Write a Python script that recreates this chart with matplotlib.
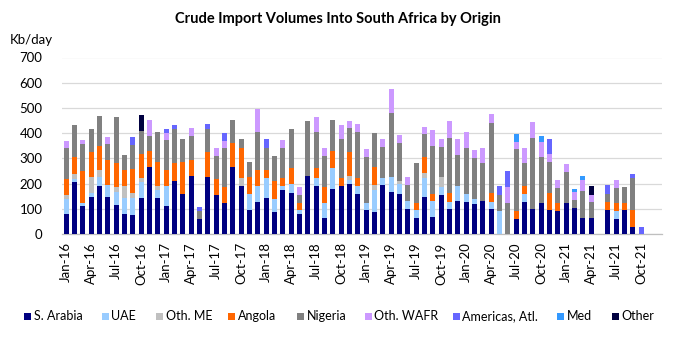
import numpy as np
import matplotlib
matplotlib.use("Agg")
import matplotlib.pyplot as plt
from matplotlib.patches import Rectangle

FONT = ["Lato", "DejaVu Sans"]
plt.rcParams["font.family"] = FONT

months = [f"{m}-{y}" for y in range(16, 22) for m in
          ["Jan", "Feb", "Mar", "Apr", "May", "Jun", "Jul", "Aug", "Sep", "Oct", "Nov", "Dec"]]

series_names = ["S. Arabia", "UAE", "Oth. ME", "Angola", "Nigeria", "Oth. WAFR",
                "Americas, Atl.", "Med", "Other"]
colors = ["#000080", "#99CCFF", "#C0C0C0", "#FF6600", "#808080", "#CC99FF",
          "#6666FF", "#3399FF", "#000040"]

s_arabia = [79, 205, 111, 147, 192, 147, 116, 81, 75, 143, 267, 143,
            111, 210, 159, 231, 61, 227, 156, 124, 264, 190, 95, 127,
            144, 86, 173, 162, 79, 231, 190, 62, 180, 190, 198, 160,
            95, 86, 194, 165, 160, 98, 62, 145, 66, 156, 99, 131,
            128, 119, 131, 98, 0, 0, 61, 125, 98, 124, 95, 92,
            124, 102, 63, 63, 0, 96, 61, 95, 29, 0, 0, 0]
uae = [60, 13, 11, 15, 33, 49, 50, 62, 69, 64, 0, 31,
       79, 0, 0, 0, 0, 0, 0, 0, 0, 0, 65, 63,
       79, 53, 17, 35, 16, 0, 31, 62, 83, 0, 15, 31,
       28, 90, 29, 62, 38, 33, 33, 78, 63, 30, 28, 61,
       31, 18, 0, 30, 92, 0, 0, 32, 0, 0, 0, 0,
       0, 0, 0, 0, 0, 0, 29, 0, 0, 0, 0, 0]
oth_me = [16, 18, 0, 65, 30, 0, 22, 46, 17, 16, 0, 16,
          0, 0, 0, 0, 0, 0, 0, 0, 0, 31, 0, 0,
          0, 0, 0, 0, 0, 0, 0, 0, 0, 0, 16, 0,
          0, 20, 0, 0, 12, 0, 0, 17, 0, 40, 0, 0,
          0, 0, 0, 0, 0, 0, 0, 0, 0, 0, 0, 0,
          0, 0, 0, 0, 0, 0, 0, 0, 0, 0, 0, 0]
angola = [63, 68, 128, 98, 95, 97, 93, 63, 98, 95, 62, 94,
          62, 70, 128, 62, 0, 98, 62, 64, 97, 122, 66, 62,
          32, 71, 33, 66, 28, 0, 42, 64, 66, 33, 97, 32,
          0, 68, 0, 0, 0, 0, 28, 64, 31, 0, 34, 0,
          0, 0, 0, 33, 0, 0, 29, 33, 0, 0, 66, 30,
          0, 0, 0, 0, 0, 32, 32, 28, 66, 0, 0, 0]
nigeria = [122, 129, 105, 92, 119, 62, 184, 60, 94, 90, 61, 120,
           121, 135, 89, 94, 29, 92, 92, 152, 93, 33, 61, 151,
           88, 100, 119, 152, 33, 218, 141, 121, 125, 152, 94, 182,
           183, 135, 123, 251, 152, 63, 158, 92, 190, 120, 219, 121,
           181, 163, 149, 280, 61, 124, 246, 91, 282, 182, 126, 62,
           123, 33, 106, 64, 0, 32, 62, 63, 128, 0, 0, 0]
oth_wafr = [29, 0, 16, 0, 0, 31, 0, 0, 0, 0, 64, 0,
            29, 0, 0, 33, 0, 0, 30, 29, 0, 0, 0, 92,
            0, 0, 31, 0, 32, 0, 61, 31, 0, 58, 30, 30,
            31, 0, 30, 97, 29, 32, 0, 28, 64, 30, 67, 63,
            63, 33, 63, 35, 0, 64, 30, 60, 63, 60, 30, 30,
            29, 33, 46, 29, 0, 0, 30, 0, 0, 0, 0, 0]
americas = [0, 0, 0, 0, 0, 0, 0, 0, 30, 0, 0, 0,
            15, 18, 0, 0, 18, 19, 0, 30, 0, 0, 0, 0,
            33, 0, 0, 0, 0, 0, 0, 0, 0, 0, 0, 0,
            0, 0, 0, 0, 0, 0, 0, 0, 0, 0, 0, 0,
            0, 0, 0, 0, 37, 63, 0, 0, 0, 0, 61, 0,
            0, 0, 0, 0, 0, 36, 0, 0, 15, 29, 0, 0]
med = [0] * 54 + [29, 0, 0, 22, 0, 0, 0, 12, 17, 0] + [0] * 8
other = [0] * 9 + [64] + [0] * 53 + [34] + [0] * 8

data = [s_arabia, uae, oth_me, angola, nigeria, oth_wafr, americas, med, other]

tick_labels = months[::3]

W, H = 679, 340
fig = plt.figure(figsize=(W / 100, H / 100), dpi=100)
ax = fig.add_axes([62 / W, 106 / H, 600 / W, 176.5 / H])

x = np.arange(len(months))
bottom = np.zeros(len(months))
for vals, col, name in zip(data, colors, series_names):
    v = np.array(vals, dtype=float)
    ax.bar(x, v, width=0.62, bottom=bottom, color=col, label=name, linewidth=0, zorder=3)
    bottom += v

ax.set_xlim(-0.5, len(months) - 0.5)
ax.set_ylim(0, 700)
ax.set_yticks(np.arange(0, 701, 100))
ax.yaxis.grid(True, color="#D9D9D9", linewidth=0.9, zorder=0)
ax.set_axisbelow(True)
ax.set_xticks(x[::3])
ax.set_xticklabels(tick_labels, rotation=90, fontsize=9.5, color="#000000")
ax.tick_params(axis="x", length=0, pad=6)
ax.tick_params(axis="y", length=0, pad=14, labelsize=9.5)
for s in ["top", "right", "left"]:
    ax.spines[s].set_visible(False)
ax.spines["bottom"].set_color("#BFBFBF")
ax.spines["bottom"].set_linewidth(0.9)

fig.text(338 / W, 1 - 19 / H, "Crude Import Volumes Into South Africa by Origin",
         ha="center", va="center", fontsize=10.5, fontweight="bold")
fig.text(10 / W, 1 - 40 / H, "Kb/day", ha="left", va="center", fontsize=9.5)

# legend entries laid out like the reference
sq_x = [24, 102, 156, 228, 297, 365, 453, 557, 612]
ly = 316
for px, name, col in zip(sq_x, series_names, colors):
    fig.patches.append(Rectangle((px / W, 1 - (ly + 3.5) / H), 7 / W, 7 / H,
                                 transform=fig.transFigure, facecolor=col,
                                 edgecolor="none"))
    fig.text((px + 9.5) / W, 1 - ly / H, name, ha="left", va="center", fontsize=9)

fig.savefig("out.png", dpi=100)
